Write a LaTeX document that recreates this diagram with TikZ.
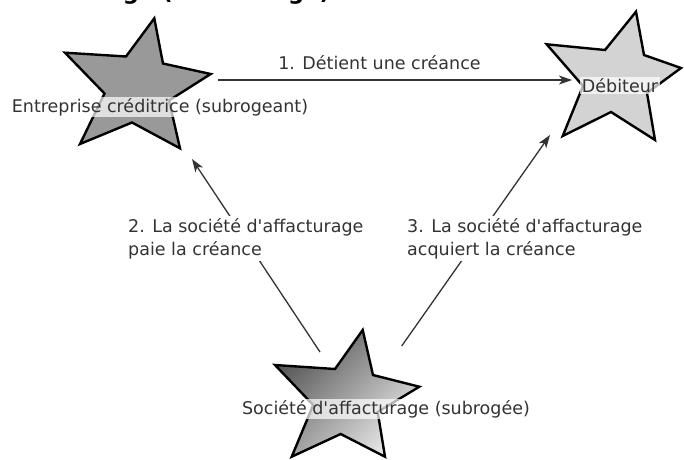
\documentclass[tikz,border=0pt]{standalone}
\usepackage{fontspec}
\newfontfamily\dvs{DejaVu Sans}
\usetikzlibrary{arrows.meta}
\definecolor{ink}{HTML}{333333}
\definecolor{starA}{HTML}{999999}
\definecolor{starB}{HTML}{D3D3D3}
\definecolor{gradA}{HTML}{555555}
\definecolor{gradB}{HTML}{E8E8E8}
\tikzset{
  lbl/.style={font=\dvs\fontsize{17.5}{23.5}\selectfont, text=ink, inner sep=1.5pt},
  starlbl/.style={lbl, fill=white, fill opacity=0.7, text opacity=1},
  arrlbl/.style={lbl, fill=white, align=left, inner sep=2pt},
  starshape/.style={draw=black, line width=2.4pt, line join=miter},
  conn/.style={draw=ink, line width=1.3pt, -{Stealth[length=13pt,width=9pt,inset=3.5pt]}},
}
\begin{document}
\begin{tikzpicture}[x=1pt,y=-1pt]
\useasboundingbox (0,0) rectangle (684,459);
\clip (0,0) rectangle (684,459);
% cut-off title (only the lowest part shows, as in the reference)
\node[anchor=base west, inner sep=0, font=\dvs\bfseries\fontsize{22.6}{27}\selectfont] (title) at (5,-1) {Affacturage (affacturage)};
% stars
\draw[starshape, fill=starA] (154.3,18.3) -- (163,63.5) -- (210.7,74) -- (169,100.5) -- (180,148.3) -- (132,122.5) -- (80,144) -- (104.5,93.5) -- (65,52.7) -- (126,56.5) -- cycle;
\draw[starshape, fill=starB] (636,11.7) -- (644,55) -- (681,68) -- (647,93) -- (655,140) -- (611,112) -- (562.7,136) -- (583,86) -- (546.7,44.3) -- (605,50) -- cycle;
\shade[top color=gradA, bottom color=gradB, shading angle=45] (362.7,330) -- (373,375) -- (419.3,386.7) -- (377.7,412) -- (385,456.7) -- (340.7,434) -- (291.7,456.7) -- (313.2,405) -- (275,365) -- (335,369) -- cycle;
\draw[starshape] (362.7,330) -- (373,375) -- (419.3,386.7) -- (377.7,412) -- (385,456.7) -- (340.7,434) -- (291.7,456.7) -- (313.2,405) -- (275,365) -- (335,369) -- cycle;
% star centres and connector ends
\coordinate (ent) at (138,87.5);
\coordinate (deb) at (616.3,80);
\coordinate (soc) at (346.7,399);
\coordinate (ent-out) at (218,80);
\coordinate (deb-in1) at (572,80);
\coordinate (soc-out2) at (320,352);
\coordinate (ent-in2) at (192,159);
\coordinate (soc-out3) at (401.7,346);
\coordinate (deb-in3) at (550,135);
% connectors
\draw[conn] (ent-out) -- (deb-in1);
\draw[conn] (soc-out2) -- (ent-in2);
\draw[conn] (soc-out3) -- (deb-in3);
% labels
\node[starlbl, anchor=base] (entl) at (160,112) {Entreprise créditrice (subrogeant)};
\node[starlbl, anchor=base] (debl) at (620,92) {Débiteur};
\node[starlbl, anchor=base] (socl) at (386,414) {Société d'affacturage (subrogée)};
\node[lbl, anchor=base] (l1) at (379.5,69) {1. Détient une créance};
\node[arrlbl, anchor=north west] (l2) at (126,216) {2. La société d'affacturage\\paie la créance};
\node[arrlbl, anchor=north west] (l3) at (405,216) {3. La société d'affacturage\\acquiert la créance};
\end{tikzpicture}
\end{document}
